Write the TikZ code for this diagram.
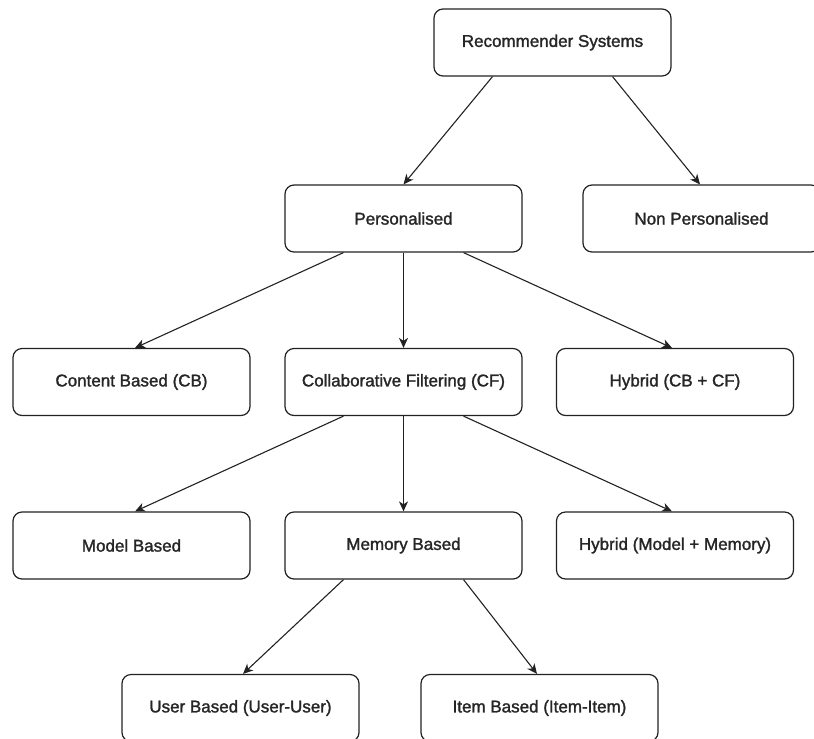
\documentclass[tikz,border=0pt]{standalone}
\usepackage{fontspec}
\setmainfont{Liberation Sans}
\newfontfamily\diafont{Liberation Sans}[FakeBold=1.6]
\usetikzlibrary{arrows.meta}
\definecolor{linec}{HTML}{222222}
\definecolor{textc}{HTML}{262626}
\begin{document}
\begin{tikzpicture}[x=1pt,y=1pt,
  box/.style={draw=linec, line width=1.2pt, rounded corners=9pt, minimum width=237pt, minimum height=67pt, inner sep=0pt, text=textc, font=\diafont\fontsize{17}{20}\selectfont},
  conn/.style={draw=linec, line width=1.1pt, -{Stealth[length=10pt,width=9pt,inset=3pt]}}]
\useasboundingbox (0,0) rectangle (814,-739);
\node[box] (rec)   at (552.5,-42.5) {Recommender Systems};
\node[box] (pers)  at (403.5,-218.5) {Personalised};
\node[box] (nonp)  at (701.5,-218.5) {Non Personalised};
\node[box] (cb)    at (131.5,-382) {Content Based (CB)};
\node[box] (cf)    at (403.5,-382) {Collaborative Filtering (CF)};
\node[box] (hyb1)  at (675,-382) {Hybrid (CB + CF)};
\node[box] (model) at (131.5,-545.5) {Model Based};
\node[box] (mem)   at (403.5,-545.5) {Memory Based};
\node[box] (hyb2)  at (675,-545.5) {Hybrid (Model + Memory)};
\node[box] (user)  at (240.5,-708) {User Based (User-User)};
\node[box] (item)  at (539.5,-708) {Item Based (Item-Item)};
\draw[conn] ([xshift=-60pt]rec.south) -- (pers.north);
\draw[conn] ([xshift=60pt]rec.south) -- ([xshift=-1.5pt]nonp.north);
\draw[conn] ([xshift=-60pt]pers.south) -- ([xshift=3.5pt]cb.north);
\draw[conn] (pers.south) -- (cf.north);
\draw[conn] ([xshift=60pt]pers.south) -- ([xshift=-3pt]hyb1.north);
\draw[conn] ([xshift=-60pt]cf.south) -- ([xshift=3.5pt]model.north);
\draw[conn] (cf.south) -- (mem.north);
\draw[conn] ([xshift=60pt]cf.south) -- ([xshift=-3pt]hyb2.north);
\draw[conn] ([xshift=-60pt]mem.south) -- ([xshift=2.5pt]user.north);
\draw[conn] ([xshift=60pt]mem.south) -- ([xshift=-2.5pt]item.north);
\end{tikzpicture}
\end{document}
